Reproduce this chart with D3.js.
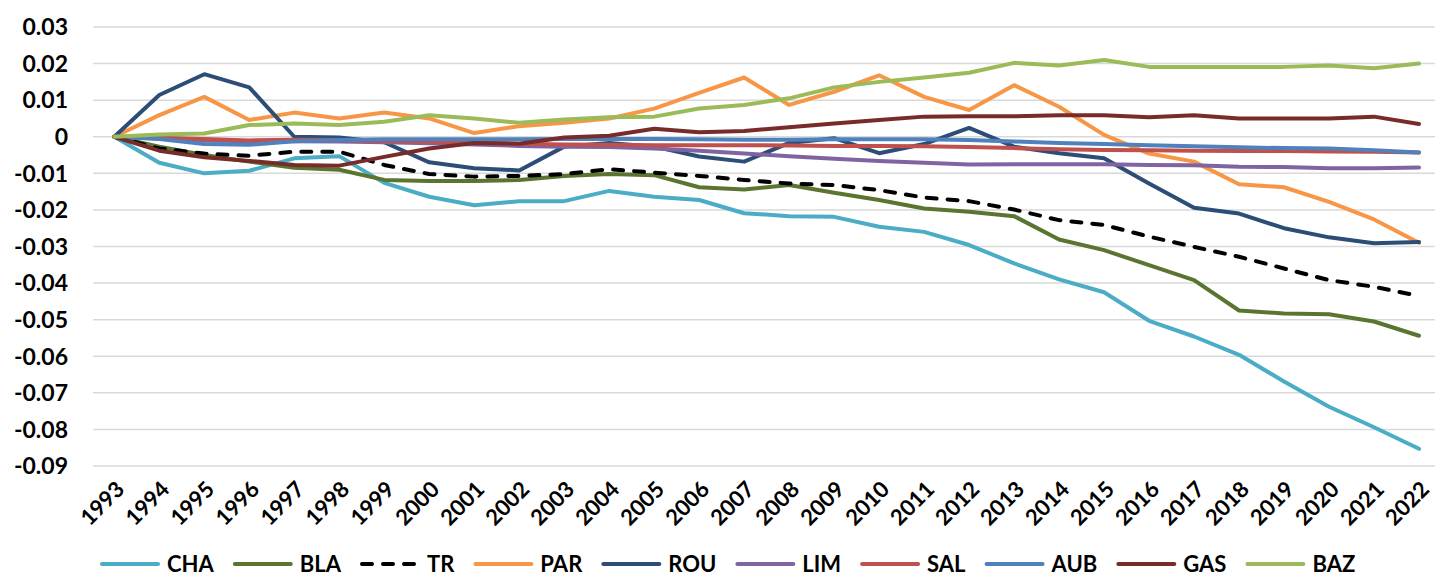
<!DOCTYPE html>
<html>
<head>
<meta charset="utf-8">
<script src="https://cdn.jsdelivr.net/npm/d3@7"></script>
<style>
  body { margin: 0; background: #fff; }
  text { font-family: Lato, "Open Sans", sans-serif; font-weight: bold; fill: #000; }
</style>
</head>
<body>
<svg id="chart" width="1435" height="576"></svg>
<script>
// data
const years = d3.range(1993, 2023);
const yTicks = [0.03, 0.02, 0.01, 0, -0.01, -0.02, -0.03, -0.04, -0.05, -0.06, -0.07, -0.08, -0.09];

const CHA = [0, -0.0071, -0.0100, -0.0093, -0.0059, -0.0053, -0.0126, -0.0164, -0.0187, -0.0176, -0.0176, -0.0148, -0.0164, -0.0173, -0.0209, -0.0217, -0.0219, -0.0246, -0.0260, -0.0296, -0.0346, -0.0390, -0.0425, -0.0503, -0.0546, -0.0596, -0.0669, -0.0738, -0.0794, -0.0853];
const BLA = [0, -0.0027, -0.0050, -0.0068, -0.0085, -0.0090, -0.0118, -0.0121, -0.0121, -0.0118, -0.0107, -0.0102, -0.0105, -0.0138, -0.0144, -0.0132, -0.0153, -0.0173, -0.0196, -0.0205, -0.0217, -0.0281, -0.0310, -0.0351, -0.0392, -0.0475, -0.0483, -0.0485, -0.0505, -0.0544];
const TR = [0, -0.0032, -0.0046, -0.0052, -0.0041, -0.0041, -0.0077, -0.0102, -0.0109, -0.0107, -0.0102, -0.0089, -0.0098, -0.0107, -0.0118, -0.0128, -0.0132, -0.0146, -0.0166, -0.0176, -0.0199, -0.0228, -0.0241, -0.0273, -0.0301, -0.0328, -0.0360, -0.0392, -0.0410, -0.0435];
const PAR = [0, 0.0059, 0.0109, 0.0046, 0.0066, 0.0050, 0.0066, 0.0050, 0.0010, 0.0029, 0.0038, 0.0050, 0.0077, 0.0120, 0.0162, 0.0087, 0.0123, 0.0168, 0.0109, 0.0073, 0.0141, 0.0082, 0.0005, -0.0046, -0.0068, -0.0130, -0.0138, -0.0178, -0.0226, -0.0290];
const ROU = [0, 0.0114, 0.0171, 0.0135, 0.0000, -0.0002, -0.0015, -0.0070, -0.0086, -0.0092, -0.0027, -0.0017, -0.0027, -0.0054, -0.0068, -0.0017, -0.0004, -0.0045, -0.0020, 0.0024, -0.0027, -0.0045, -0.0059, -0.0128, -0.0194, -0.0210, -0.0250, -0.0275, -0.0291, -0.0288];
const LIM = [0, -0.0005, -0.0010, -0.0012, -0.0012, -0.0013, -0.0015, -0.0018, -0.0021, -0.0025, -0.0027, -0.0028, -0.0032, -0.0038, -0.0046, -0.0053, -0.0060, -0.0066, -0.0071, -0.0076, -0.0075, -0.0075, -0.0075, -0.0077, -0.0078, -0.0082, -0.0083, -0.0086, -0.0086, -0.0084];
const SAL = [0, -0.0003, -0.0006, -0.0010, -0.0008, -0.0009, -0.0011, -0.0013, -0.0016, -0.0019, -0.0021, -0.0022, -0.0023, -0.0023, -0.0023, -0.0024, -0.0025, -0.0025, -0.0026, -0.0028, -0.0031, -0.0034, -0.0036, -0.0037, -0.0038, -0.0039, -0.0039, -0.0040, -0.0041, -0.0043];
const AUB = [0, -0.0006, -0.0020, -0.0022, -0.0012, -0.0009, -0.0007, -0.0007, -0.0007, -0.0007, -0.0006, -0.0006, -0.0006, -0.0007, -0.0008, -0.0008, -0.0007, -0.0007, -0.0007, -0.0009, -0.0013, -0.0017, -0.0020, -0.0023, -0.0026, -0.0029, -0.0031, -0.0032, -0.0037, -0.0043];
const GAS = [0, -0.0038, -0.0056, -0.0066, -0.0077, -0.0079, -0.0055, -0.0032, -0.0017, -0.0019, -0.0002, 0.0003, 0.0022, 0.0012, 0.0016, 0.0026, 0.0036, 0.0046, 0.0055, 0.0056, 0.0056, 0.0059, 0.0059, 0.0053, 0.0059, 0.0050, 0.0050, 0.0050, 0.0055, 0.0035];
const BAZ = [0, 0.0006, 0.0009, 0.0032, 0.0036, 0.0032, 0.0041, 0.0059, 0.0050, 0.0038, 0.0047, 0.0053, 0.0055, 0.0077, 0.0087, 0.0105, 0.0135, 0.0150, 0.0162, 0.0175, 0.0202, 0.0195, 0.0210, 0.0191, 0.0191, 0.0191, 0.0191, 0.0195, 0.0187, 0.0200];

const series = [
    { name: "CHA", values: CHA, color: "#4bacc6" },
    { name: "BLA", values: BLA, color: "#5a7530" },
    { name: "TR", values: TR, color: "#000000", dashed: true },
    { name: "PAR", values: PAR, color: "#f79646" },
    { name: "ROU", values: ROU, color: "#2c4d75" },
    { name: "LIM", values: LIM, color: "#8064a2" },
    { name: "SAL", values: SAL, color: "#c0504d" },
    { name: "AUB", values: AUB, color: "#4f81bd" },
    { name: "GAS", values: GAS, color: "#772c2a" },
    { name: "BAZ", values: BAZ, color: "#9bbb59" }
];

const svg = d3.select("#chart");

const x = d3.scalePoint().domain(years).range([114.3, 1419]);
const y = d3.scaleLinear().domain([-0.09, 0.03]).range([466, 27]);

// gridlines
svg.append("g")
    .selectAll("line")
    .data(yTicks)
    .enter()
    .append("line")
    .attr("x1", 93)
    .attr("x2", 1435)
    .attr("y1", d => y(d))
    .attr("y2", d => y(d))
    .attr("stroke", "#d9d9d9")
    .attr("stroke-width", 1.5);

// y axis labels
svg.append("g")
    .selectAll("text")
    .data(yTicks)
    .enter()
    .append("text")
    .attr("x", 68)
    .attr("y", d => y(d))
    .attr("dy", "0.36em")
    .attr("text-anchor", "end")
    .style("font-size", "23px")
    .text(d => d === 0 ? "0" : d.toFixed(2));

// x axis labels, rotated
svg.append("g")
    .selectAll("text")
    .data(years)
    .enter()
    .append("text")
    .attr("transform", d => `translate(${x(d) + 6},${485}) rotate(-45)`)
    .attr("dy", "0.36em")
    .attr("text-anchor", "end")
    .style("font-size", "22px")
    .text(d => d);

const line = d3.line()
    .x((d, i) => x(years[i]))
    .y(d => y(d));

svg.append("g")
    .selectAll("path")
    .data(series)
    .enter()
    .append("path")
    .attr("d", d => line(d.values))
    .attr("fill", "none")
    .attr("stroke", d => d.color)
    .attr("stroke-width", 4)
    .attr("stroke-linejoin", "round")
    .attr("stroke-linecap", "round")
    .attr("stroke-dasharray", d => d.dashed ? "10,11" : null);

// legend
const legend = svg.append("g");
let lx = 100;
const ly = 564;
series.forEach(s => {
    legend.append("line")
        .attr("x1", lx + 2)
        .attr("x2", lx + 58)
        .attr("y1", ly)
        .attr("y2", ly)
        .attr("stroke", s.color)
        .attr("stroke-width", 4)
        .attr("stroke-linecap", "round")
        .attr("stroke-dasharray", s.dashed ? "10,11" : null);
    const t = legend.append("text")
        .attr("x", lx + 67)
        .attr("y", ly)
        .attr("dy", "0.36em")
        .style("font-size", "22px")
        .text(s.name);
    lx += 67 + t.node().getComputedTextLength() + 19;
});
</script>
</body>
</html>
